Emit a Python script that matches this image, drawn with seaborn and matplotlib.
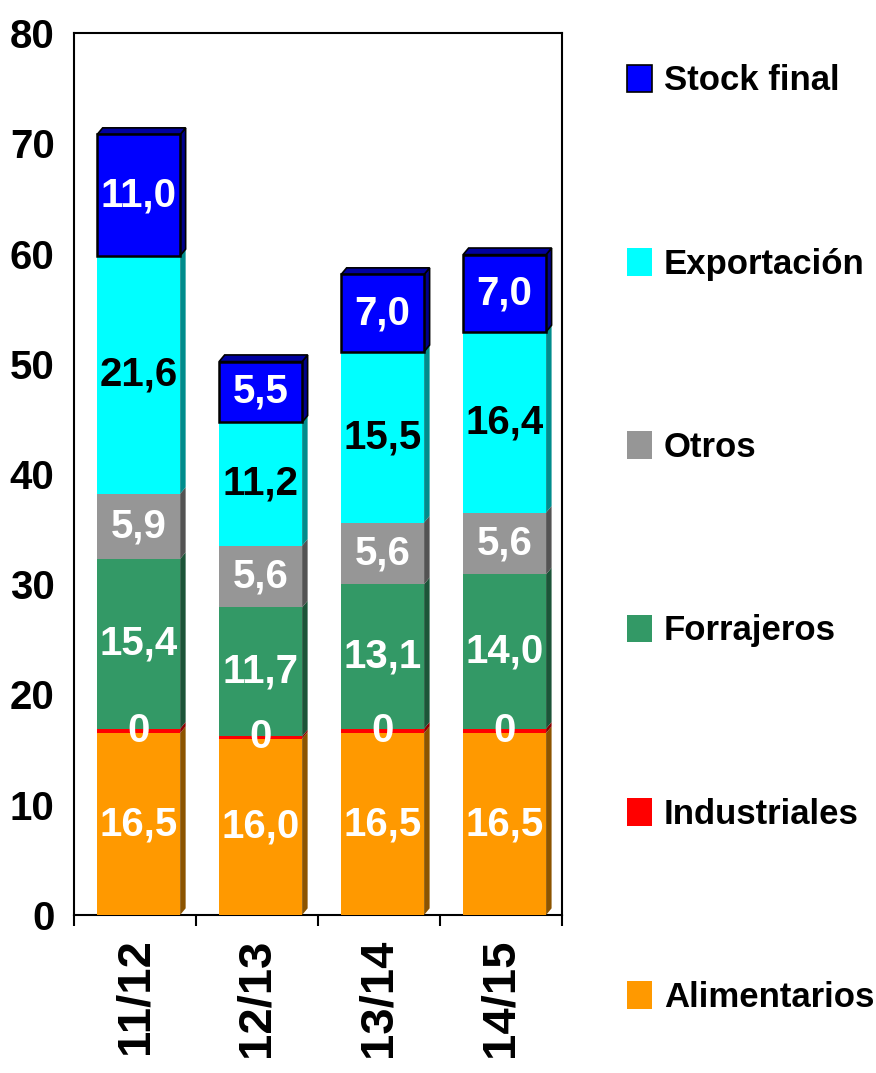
import matplotlib
matplotlib.use("Agg")
import matplotlib.pyplot as plt
import numpy as np
import seaborn as sns
from matplotlib.patches import Patch, Polygon

# === DATA === #
campanias = ["11/12", "12/13", "13/14", "14/15"]
alimentarios = [16.5, 16.0, 16.5, 16.5]
industriales = [0.4, 0.2, 0.4, 0.4]
forrajeros = [15.4, 11.7, 13.1, 14.0]
otros = [5.9, 5.6, 5.6, 5.6]
exportacion = [21.6, 11.2, 15.5, 16.4]
stock_final = [11.0, 5.5, 7.0, 7.0]

series_names = ["Alimentarios", "Industriales", "Forrajeros", "Otros", "Exportación", "Stock final"]
series_values = [alimentarios, industriales, forrajeros, otros, exportacion, stock_final]
series_colors = ["#FF9900", "#FF0000", "#339966", "#969696", "#00FFFF", "#0000FF"]
label_colors = ["white", "white", "white", "white", "black", "white"]

# === SETUP === #
sns.set_theme(style="white")
plt.rcParams["font.family"] = ["Liberation Sans", "DejaVu Sans"]
plt.rcParams["font.weight"] = "bold"
plt.rcParams["text.color"] = "black"
plt.rcParams["xtick.color"] = "black"
plt.rcParams["ytick.color"] = "black"

fig = plt.figure(figsize=(8.76, 10.73), dpi=100)
ax = fig.add_axes([0.0845, 0.1473, 0.557, 0.8219])

BAR_W = 0.68
DX, DY = 0.045, 0.6  # 3D depth in data units


def darker(c, f=0.55):
    r, g, b = matplotlib.colors.to_rgb(c)
    return (r * f, g * f, b * f)


bottom = np.zeros(len(campanias))
n_series = len(series_values)
for i, (name, vals, col, lcol) in enumerate(zip(series_names, series_values, series_colors, label_colors)):
    is_top = i == n_series - 1
    sns.barplot(
        x=campanias, y=vals, bottom=bottom, color=col, saturation=1, width=BAR_W,
        edgecolor="black" if is_top else "none", linewidth=1.8 if is_top else 0,
        ax=ax, zorder=3,
    )
    cont = ax.containers[-1]
    for bar in cont:
        bar.set_x(bar.get_x() + 0.03)
        x0, y0 = bar.get_x(), bar.get_y()
        x1, y1 = x0 + bar.get_width(), y0 + bar.get_height()
        side = Polygon([(x1, y0), (x1 + DX, y0 + DY), (x1 + DX, y1 + DY), (x1, y1)], closed=True,
                       facecolor=darker(col), edgecolor="black" if is_top else "none",
                       linewidth=1.2 if is_top else 0, zorder=2.9)
        ax.add_patch(side)
        if is_top:
            top = Polygon([(x0, y1), (x0 + DX, y1 + DY), (x1 + DX, y1 + DY), (x1, y1)], closed=True,
                          facecolor="#0000A0", edgecolor="black", linewidth=1.2, zorder=2.9)
            ax.add_patch(top)
    if name == "Industriales":
        labels = [f"{int(v)}" for v in vals]
    else:
        labels = [f"{v:.1f}".replace(".", ",") for v in vals]
    ax.bar_label(cont, labels=labels, label_type="center", color=lcol, fontsize=29,
                 fontweight="bold", zorder=5)
    bottom = bottom + np.array(vals)

# === AXES === #
ax.set_xlim(-0.5, 3.5)
ax.set_ylim(0, 80)
ax.set_yticks(range(0, 81, 10))
ax.set_xlabel("")
ax.set_ylabel("")
ax.tick_params(axis="y", length=0, pad=14, labelsize=29)
ax.set_xticks(range(len(campanias)))
ax.set_xticklabels(campanias, rotation=90, fontsize=34, fontweight="bold", va="top", ha="center")
ax.tick_params(axis="x", which="major", length=0, pad=17)
ax.set_xticks(np.arange(-0.5, 4, 1), minor=True)
ax.tick_params(axis="x", which="minor", length=8, width=1.5, direction="out", color="black", bottom=True)
for s in ax.spines.values():
    s.set_color("black")
    s.set_linewidth(1.5)
    s.set_visible(True)
ax.grid(False)

# === LEGEND === #
handles = [Patch(facecolor=c, edgecolor="black" if n == "Stock final" else "none", linewidth=1.2)
           for n, c in zip(series_names, series_colors)][::-1]
fig.legend(handles, series_names[::-1], loc="upper left", bbox_to_anchor=(0.716, 0.940),
           frameon=False, labelspacing=4.33, handlelength=0.7, handleheight=0.85,
           handletextpad=0.35, borderpad=0, borderaxespad=0, prop={"weight": "bold", "size": 25})

fig.savefig("out.png", dpi=100)
